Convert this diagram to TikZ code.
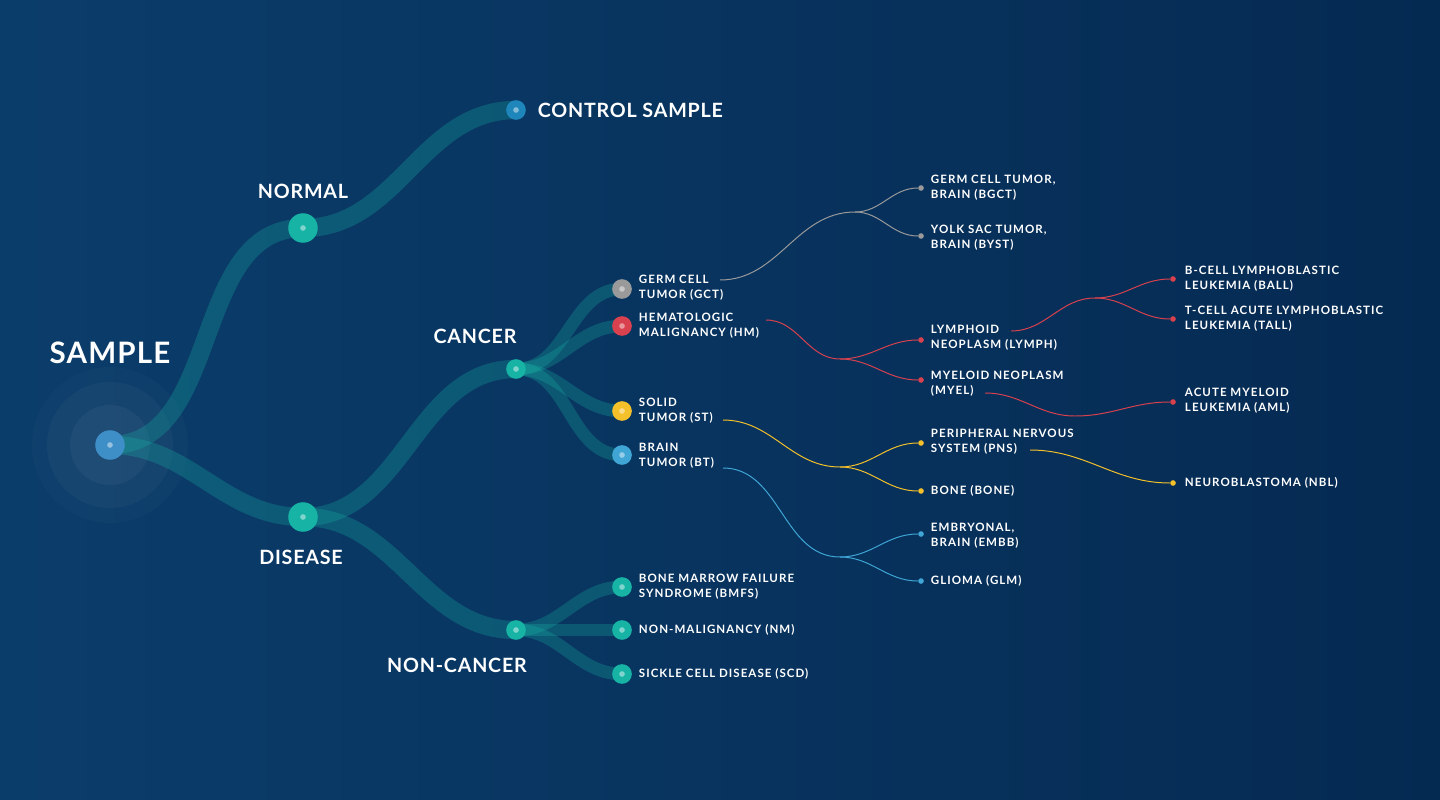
\documentclass[tikz,border=0pt]{standalone}
\usepackage{fontspec}
\setmainfont{Lato}
\newfontfamily\trackfont[LetterSpace=9]{Lato}
\newfontfamily\widefont[LetterSpace=4]{Lato}
\usetikzlibrary{positioning}
\definecolor{bgl}{HTML}{0B3D6B}
\definecolor{bgr}{HTML}{052A52}
\definecolor{teal}{HTML}{17B3A5}
\definecolor{rootc}{HTML}{3E8FC8}
\definecolor{ctrlc}{HTML}{1E86BA}
\definecolor{greyc}{HTML}{9A9A9A}
\definecolor{redc}{HTML}{D9414E}
\definecolor{yelc}{HTML}{F5C12B}
\definecolor{bluec}{HTML}{3FA6D6}
\tikzset{
  band/.style={line width=13pt, teal, opacity=0.28},
  subband/.style={line width=9pt, teal, opacity=0.28},
  bigdot/.style={circle, fill=#1, minimum size=21pt, inner sep=0pt},
  middot/.style={circle, fill=#1, minimum size=14pt, inner sep=0pt},
  tinydot/.style={circle, fill=#1, minimum size=4pt, inner sep=0pt},
  pip/.style={circle, fill=white, opacity=0.45, minimum size=4pt, inner sep=0pt},
  biglbl/.style={text=white, font=\widefont\bfseries\fontsize{14}{16}\selectfont},
  lbl/.style={text=white, anchor=west, align=left, font=\trackfont\bfseries\fontsize{8.2}{10.5}\selectfont},
  thin/.style={line width=0.7pt, #1},
}
\begin{document}
\begin{tikzpicture}[x=0.025cm, y=-0.025cm]
  \shade[left color=bgl, right color=bgr] (0,0) rectangle (1440,800);
  \useasboundingbox (0,0) rectangle (1440,800);
  % halos round the root
  \fill[white, opacity=0.02] (110,445) circle (78);
  \fill[white, opacity=0.03] (110,445) circle (63);
  \fill[white, opacity=0.04] (110,445) circle (40);
  % main nodes
  \coordinate (sample) at (110,445);
  \coordinate (normal) at (303,228);
  \coordinate (control) at (516,110);
  \coordinate (disease) at (303,517);
  \coordinate (cancer) at (516,369);
  \coordinate (noncancer) at (516,630);
  \coordinate (gct) at (622,289);
  \coordinate (hm) at (622,326);
  \coordinate (st) at (622,411);
  \coordinate (bt) at (622,455);
  \coordinate (bmfs) at (622,587);
  \coordinate (nm) at (622,630);
  \coordinate (scd) at (622,674);
  % thick bands
  \draw[band] (sample) to[out=0, in=180] (normal);
  \draw[band] (sample) to[out=0, in=180] (disease);
  \draw[band] (normal) to[out=0, in=180] (control);
  \draw[band] (disease) to[out=0, in=180] (cancer);
  \draw[band] (disease) to[out=0, in=180] (noncancer);
  \foreach \c in {gct,hm,st,bt}
    \draw[subband] (cancer) to[out=0, in=180] (\c);
  \foreach \c in {bmfs,nm,scd}
    \draw[subband] (noncancer) to[out=0, in=180] (\c);
  % dots
  \node[bigdot=rootc] (sampled) at (sample) {};
  \node[bigdot=teal] (normald) at (normal) {};
  \node[bigdot=teal] (diseased) at (disease) {};
  \node[middot=ctrlc] (controld) at (control) {};
  \node[middot=teal] (cancerd) at (cancer) {};
  \node[middot=teal] (noncancerd) at (noncancer) {};
  \node[middot=greyc] (gctd) at (gct) {};
  \node[middot=redc] (hmd) at (hm) {};
  \node[middot=yelc] (std) at (st) {};
  \node[middot=bluec] (btd) at (bt) {};
  \node[middot=teal] (bmfsd) at (bmfs) {};
  \node[middot=teal] (nmd) at (nm) {};
  \node[middot=teal] (scdd) at (scd) {};
  \foreach \c in {sample,normal,disease,control,cancer,noncancer,gct,hm,st,bt,bmfs,nm,scd}
    \node[pip] at (\c) {};
  % big labels
  \node[biglbl, font=\widefont\bfseries\fontsize{21}{24}\selectfont] at (110,353) {SAMPLE};
  \node[biglbl] at (303,191) {NORMAL};
  \node[biglbl] at (301,557) {DISEASE};
  \node[biglbl] at (475,336) {CANCER};
  \node[biglbl] at (457,665) {NON-CANCER};
  \node[biglbl, anchor=west] at (533,110) {CONTROL SAMPLE};
  % first level labels
  \node[lbl] (gctl) at (634,288) {GERM CELL\\TUMOR (GCT)};
  \node[lbl] (hml) at (634,326) {HEMATOLOGIC\\MALIGNANCY (HM)};
  \node[lbl] (stl) at (634,411) {SOLID\\TUMOR (ST)};
  \node[lbl] (btl) at (634,456) {BRAIN\\TUMOR (BT)};
  \node[lbl] (bmfsl) at (634,587) {BONE MARROW FAILURE\\SYNDROME (BMFS)};
  \node[lbl] (nml) at (634,630) {NON-MALIGNANCY (NM)};
  \node[lbl] (scdl) at (634,674) {SICKLE CELL DISEASE (SCD)};
  % second level dots and labels
  \node[tinydot=greyc] (bgct) at (921,188) {};
  \node[tinydot=greyc] (byst) at (921,236) {};
  \node[tinydot=redc] (lymph) at (921,340) {};
  \node[tinydot=redc] (myel) at (921,380) {};
  \node[tinydot=yelc] (pns) at (921,443) {};
  \node[tinydot=yelc] (bone) at (921,491) {};
  \node[tinydot=bluec] (embb) at (921,534) {};
  \node[tinydot=bluec] (glm) at (921,581) {};
  \node[lbl] (bgctl) at (926,188) {GERM CELL TUMOR,\\BRAIN (BGCT)};
  \node[lbl] (bystl) at (926,238) {YOLK SAC TUMOR,\\BRAIN (BYST)};
  \node[lbl] (lymphl) at (926,338) {LYMPHOID\\NEOPLASM (LYMPH)};
  \node[lbl] (myell) at (926,384) {MYELOID NEOPLASM\\(MYEL)};
  \node[lbl] (pnsl) at (926,442) {PERIPHERAL NERVOUS\\SYSTEM (PNS)};
  \node[lbl] (bonel) at (926,491) {BONE (BONE)};
  \node[lbl] (embbl) at (926,536) {EMBRYONAL,\\BRAIN (EMBB)};
  \node[lbl] (glml) at (926,581) {GLIOMA (GLM)};
  % third level dots and labels
  \node[tinydot=redc] (ball) at (1173,279) {};
  \node[tinydot=redc] (tall) at (1173,319) {};
  \node[tinydot=redc] (aml) at (1173,402) {};
  \node[tinydot=yelc] (nbl) at (1173,483) {};
  \node[lbl] (balll) at (1180,279) {B-CELL LYMPHOBLASTIC\\LEUKEMIA (BALL)};
  \node[lbl] (talll) at (1180,319) {T-CELL ACUTE LYMPHOBLASTIC\\LEUKEMIA (TALL)};
  \node[lbl] (amll) at (1180,401) {ACUTE MYELOID\\LEUKEMIA (AML)};
  \node[lbl] (nbll) at (1180,483) {NEUROBLASTOMA (NBL)};
  % forks
  \coordinate (gctfrom) at (720,280);
  \coordinate (gctfork) at (855,212);
  \coordinate (hmfrom) at (766,320);
  \coordinate (hmfork) at (840,359);
  \coordinate (stfrom) at (723,420);
  \coordinate (stfork) at (840,467);
  \coordinate (btfrom) at (723,468);
  \coordinate (btfork) at (840,557);
  \coordinate (lymphfrom) at (1011,331);
  \coordinate (lymphfork) at (1095,298);
  \coordinate (myelfrom) at (985,393);
  \coordinate (myeldip) at (1075,416);
  \coordinate (pnsfrom) at (1030,450);
  % thin connectors
  \draw[thin=greyc] (gctfrom) to[out=0, in=180] (gctfork) to[out=0, in=180] (bgct);
  \draw[thin=greyc] (gctfork) to[out=0, in=180] (byst);
  \draw[thin=redc] (hmfrom) to[out=0, in=180] (hmfork) to[out=0, in=180] (lymph);
  \draw[thin=redc] (hmfork) to[out=0, in=180] (myel);
  \draw[thin=yelc] (stfrom) to[out=0, in=180] (stfork) to[out=0, in=180] (pns);
  \draw[thin=yelc] (stfork) to[out=0, in=180] (bone);
  \draw[thin=bluec] (btfrom) to[out=0, in=180] (btfork) to[out=0, in=180] (embb);
  \draw[thin=bluec] (btfork) to[out=0, in=180] (glm);
  \draw[thin=redc] (lymphfrom) to[out=0, in=180] (lymphfork) to[out=0, in=180] (ball);
  \draw[thin=redc] (lymphfork) to[out=0, in=180] (tall);
  \draw[thin=redc] (myelfrom) to[out=0, in=180] (myeldip) to[out=0, in=180] (aml);
  \draw[thin=yelc] (pnsfrom) to[out=0, in=180] (nbl);
\end{tikzpicture}
\end{document}
